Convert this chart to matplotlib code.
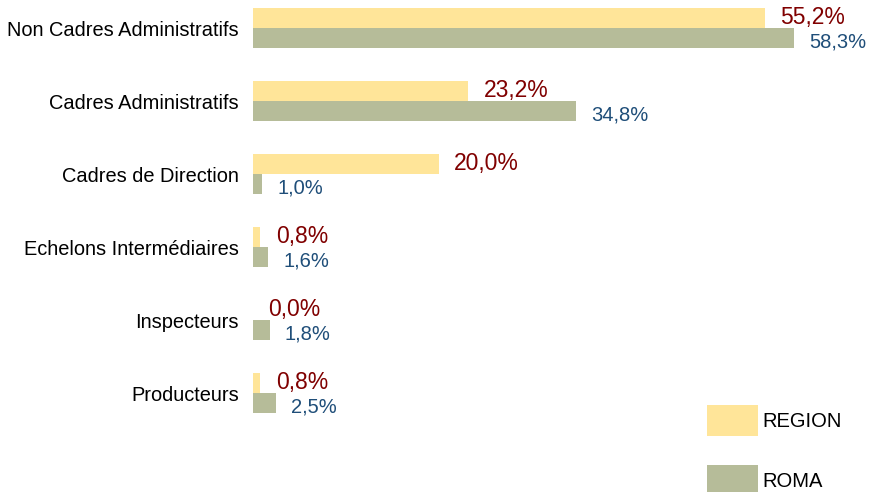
import matplotlib.pyplot as plt
import numpy as np

plt.rcParams['font.family'] = ['Liberation Sans', 'DejaVu Sans']

categories = ["Non Cadres Administratifs", "Cadres Administratifs", "Cadres de Direction",
              "Echelons Intermédiaires", "Inspecteurs", "Producteurs"]
region = [55.2, 23.2, 20.0, 0.8, 0.0, 0.8]
roma = [58.3, 34.8, 1.0, 1.6, 1.8, 2.5]
series_names = ["REGION", "ROMA"]

YELLOW = "#FFE599"
GREEN = "#B6BC99"
RED = "#800000"
BLUE = "#1F4E79"

W, H = 873, 492
fig = plt.figure(figsize=(W / 100, H / 100), dpi=100)
ax = fig.add_axes([253 / W, 0, 603 / W, 1])

y = np.arange(len(categories))
bh = 0.275
ax.barh(y - bh / 2, region, height=bh, color=YELLOW, label=series_names[0])
ax.barh(y + bh / 2, roma, height=bh, color=GREEN, label=series_names[1])

fmt = lambda v: f"{v:.1f}%".replace(".", ",")
for i in range(len(categories)):
    ax.annotate(fmt(region[i]), (region[i], y[i] - bh / 2), xytext=(11, 0),
                textcoords="offset points", ha="left", va="center",
                fontsize=16.5, color=RED)
    ax.annotate(fmt(roma[i]), (roma[i], y[i] + bh / 2), xytext=(11, -3),
                textcoords="offset points", ha="left", va="center",
                fontsize=14.5, color=BLUE)

ax.set_xlim(0, 65)
ax.set_ylim(6.356, -0.384)
ax.set_yticks(y)
ax.set_yticklabels(categories, fontsize=14.4)
ax.tick_params(axis="y", length=0, pad=10)
ax.set_xticks([])
for s in ax.spines.values():
    s.set_visible(False)

ax.legend(loc="upper left", bbox_to_anchor=(707 / W, 1 - 405 / H),
          bbox_transform=fig.transFigure, frameon=False, fontsize=14.5,
          handlelength=2.54, handleheight=2.0, handletextpad=0.2,
          labelspacing=1.45, borderpad=0, borderaxespad=0)

fig.savefig("out.png", dpi=100)
